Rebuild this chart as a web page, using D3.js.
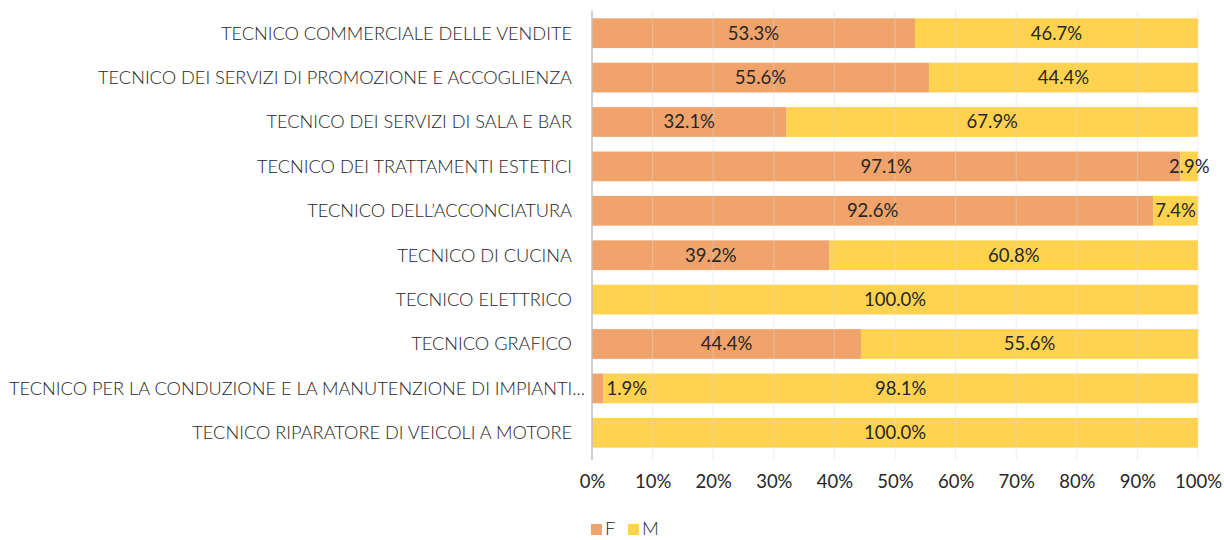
<!DOCTYPE html>
<html>
<head>
<meta charset="utf-8">
<script src="https://cdn.jsdelivr.net/npm/d3@7"></script>
<style>
  body { margin: 0; background: #fff; }
  text { font-family: Lato, "Open Sans", sans-serif; font-weight: 300; fill: #262626; }
</style>
</head>
<body>
<div id="chart"></div>
<script>
// ************** data *****************
var categories = [
  "TECNICO COMMERCIALE DELLE VENDITE",
  "TECNICO DEI SERVIZI DI PROMOZIONE E ACCOGLIENZA",
  "TECNICO DEI SERVIZI DI SALA E BAR",
  "TECNICO DEI TRATTAMENTI ESTETICI",
  "TECNICO DELL\u2019ACCONCIATURA",
  "TECNICO DI CUCINA",
  "TECNICO ELETTRICO",
  "TECNICO GRAFICO",
  "TECNICO PER LA CONDUZIONE E LA MANUTENZIONE DI IMPIANTI...",
  "TECNICO RIPARATORE DI VEICOLI A MOTORE"
];
var valuesF = [53.3, 55.6, 32.1, 97.1, 92.6, 39.2, 0, 44.4, 1.9, 0];
var valuesM = [46.7, 44.4, 67.9, 2.9, 7.4, 60.8, 100.0, 55.6, 98.1, 100.0];
var seriesNames = ["F", "M"];
var seriesColors = ["#F0A46C", "#FFD34F"];
var tickValues = [0, 10, 20, 30, 40, 50, 60, 70, 80, 90, 100];

var width = 1224, height = 540;
var margin = {top: 11, left: 592, right: 26, bottom: 85};
var fontSize = "18.5px";
var labelFontSize = "18.2px";

var svg = d3.select("#chart").append("svg")
  .attr("width", width)
  .attr("height", height);

var x = d3.scaleLinear().domain([0, 100]).range([margin.left, width - margin.right]);
var y = d3.scaleBand().domain(categories).range([margin.top, height - margin.bottom]).paddingInner(0.33).paddingOuter(0.165);

var rows = categories.map(function(c, i) { return {cat: c, F: valuesF[i], M: valuesM[i]}; });
var stack = d3.stack().keys(seriesNames)(rows);

//bars
var gBars = svg.append("g");
gBars.selectAll("g.series")
  .data(stack)
  .enter()
  .append("g")
  .attr("fill", function(d, i) { return seriesColors[i]; })
  .selectAll("rect")
  .data(function(d) { return d; })
  .enter()
  .append("rect")
  .attr("x", function(d) { return x(d[0]); })
  .attr("y", function(d) { return y(d.data.cat); })
  .attr("width", function(d) { return x(d[1]) - x(d[0]); })
  .attr("height", y.bandwidth());

//grid lines (show through bars faintly)
svg.append("g").selectAll("line")
  .data(tickValues.slice(1))
  .enter()
  .append("line")
  .attr("x1", function(d) { return x(d); })
  .attr("x2", function(d) { return x(d); })
  .attr("y1", margin.top)
  .attr("y2", height - margin.bottom + 5)
  .attr("stroke", "#d9d9d9")
  .attr("stroke-opacity", 0.45)
  .attr("stroke-width", 1);

//left axis line
svg.append("line")
  .attr("x1", x(0)).attr("x2", x(0))
  .attr("y1", margin.top).attr("y2", height - margin.bottom + 5)
  .attr("stroke", "#bfbfbf").attr("stroke-width", 1.5);

//bottom axis
var xAxis = d3.axisBottom(x).tickValues(tickValues).tickSize(0).tickPadding(0)
  .tickFormat(function(d) { return d + "%"; });
var gx = svg.append("g")
  .attr("transform", "translate(0," + (height - margin.bottom + 20) + ")")
  .call(xAxis);
gx.select(".domain").remove();
gx.selectAll("text").attr("font-size", fontSize).attr("fill", "#404040")
  .style("font-family", "Lato, sans-serif").style("font-weight", 400);

//category labels
svg.append("g").selectAll("text")
  .data(categories)
  .enter()
  .append("text")
  .attr("x", function(d) { return /\.\.\.$/.test(d) ? margin.left - 7 : margin.left - 20; })
  .attr("y", function(d) { return y(d) + y.bandwidth() / 2; })
  .attr("dy", "0.35em")
  .attr("text-anchor", "end")
  .attr("font-size", labelFontSize)
  .attr("fill", "#404040")
  .text(function(d) { return d; });

//value labels
stack.forEach(function(s) {
  var t = svg.append("g").selectAll("text")
    .data(s.filter(function(d) { return d[1] - d[0] > 0; }))
    .enter()
    .append("text")
    .attr("x", function(d) { return (x(d[0]) + x(d[1])) / 2; })
    .attr("y", function(d) { return y(d.data.cat) + y.bandwidth() / 2; })
    .attr("dy", "0.35em")
    .attr("text-anchor", "middle")
    .attr("font-size", fontSize)
    .style("font-weight", 400)
    .text(function(d) { return (d[1] - d[0]).toFixed(1) + "%"; });
  // labels that would cross the axis line go just right of the segment
  t.each(function(d) {
    var w = this.getComputedTextLength();
    var cx = (x(d[0]) + x(d[1])) / 2;
    if (cx - w / 2 < margin.left) {
      d3.select(this).attr("text-anchor", "start").attr("x", x(d[1]) + 3);
    }
  });
});

//legend
var legend = svg.append("g").attr("transform", "translate(" + 591 + "," + 529 + ")");
var lg = legend.selectAll("g")
  .data(seriesNames)
  .enter()
  .append("g")
  .attr("transform", function(d, i) { return "translate(" + (i * 37) + ",0)"; });
lg.append("rect")
  .attr("x", 0).attr("y", -5)
  .attr("width", 11).attr("height", 11)
  .attr("fill", function(d, i) { return seriesColors[i]; });
lg.append("text")
  .attr("x", 14).attr("y", 0).attr("dy", "0.35em")
  .attr("font-size", fontSize).attr("fill", "#404040")
  .text(function(d) { return d; });
</script>
</body>
</html>
